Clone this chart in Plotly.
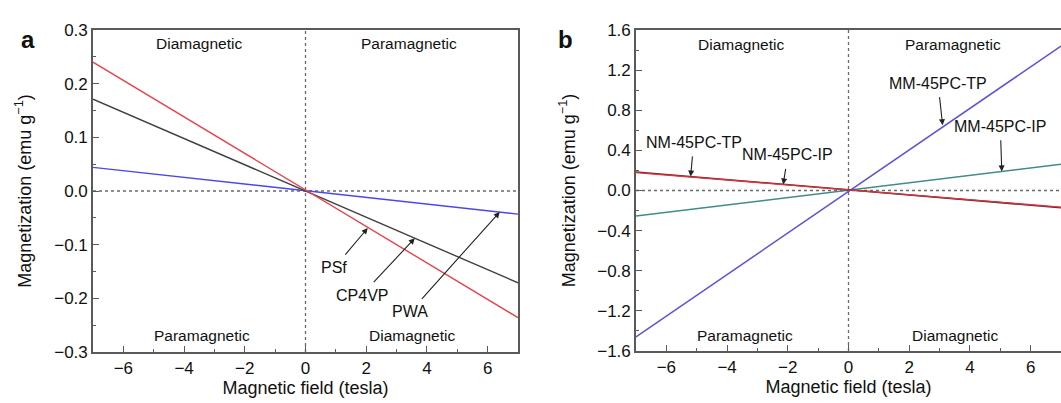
import plotly.graph_objects as go

# ---------------- data ----------------
field = [-7, 7]
# panel a
a_psf = [0.240, -0.236]
a_cp4vp = [0.171, -0.171]
a_pwa = [0.044, -0.043]
# panel b
b_nm_tp = [0.185, -0.172]
b_nm_ip = [0.178, -0.166]
b_mm_tp = [-1.46, 1.44]
b_mm_ip = [-0.255, 0.262]

a_yticks = [-0.3, -0.2, -0.1, 0.0, 0.1, 0.2, 0.3]
a_yticklabels = ["\u22120.3", "\u22120.2", "\u22120.1", "0.0", "0.1", "0.2", "0.3"]
b_yticks = [-1.6, -1.2, -0.8, -0.4, 0.0, 0.4, 0.8, 1.2, 1.6]
b_yticklabels = ["\u22121.6", "\u22121.2", "\u22120.8", "\u22120.4", "0.0", "0.4", "0.8", "1.2", "1.6"]
xticks = [-6, -4, -2, 0, 2, 4, 6]
xticklabels = ["\u22126", "\u22124", "\u22122", "0", "2", "4", "6"]

FONT = "Liberation Sans, Arial, sans-serif"
W, H = 1061, 403

def px_x(p):
    return p / W

def px_y(p):
    return 1 - p / H

fig = go.Figure()

# reference dashed lines
for xa, ya, yr in [("x", "y", [-0.3, 0.3]), ("x2", "y2", [-1.6, 1.6])]:
    fig.add_trace(go.Scatter(x=[0, 0], y=yr, xaxis=xa, yaxis=ya, mode="lines",
                             line=dict(color="#6a6a6a", width=1.3, dash="3px,3px"),
                             showlegend=False, hoverinfo="skip"))
    fig.add_trace(go.Scatter(x=field, y=[0, 0], xaxis=xa, yaxis=ya, mode="lines",
                             line=dict(color="#6a6a6a", width=1.3, dash="3px,3px"),
                             showlegend=False, hoverinfo="skip"))

# panel a lines
fig.add_trace(go.Scatter(x=field, y=a_pwa, name="PWA", mode="lines",
                         line=dict(color="#4a48e8", width=1.4), xaxis="x", yaxis="y"))
fig.add_trace(go.Scatter(x=field, y=a_cp4vp, name="CP4VP", mode="lines",
                         line=dict(color="#404040", width=1.4), xaxis="x", yaxis="y"))
fig.add_trace(go.Scatter(x=field, y=a_psf, name="PSf", mode="lines",
                         line=dict(color="#e8424a", width=1.4), xaxis="x", yaxis="y"))

# panel b lines
fig.add_trace(go.Scatter(x=field, y=b_mm_ip, name="MM-45PC-IP", mode="lines",
                         line=dict(color="#3f8c89", width=1.4), xaxis="x2", yaxis="y2"))
fig.add_trace(go.Scatter(x=field, y=b_mm_tp, name="MM-45PC-TP", mode="lines",
                         line=dict(color="#5b52d8", width=1.5), xaxis="x2", yaxis="y2"))
fig.add_trace(go.Scatter(x=field, y=b_nm_tp, name="NM-45PC-TP", mode="lines",
                         line=dict(color="#5a2a30", width=1.5), xaxis="x2", yaxis="y2"))
fig.add_trace(go.Scatter(x=field, y=b_nm_ip, name="NM-45PC-IP", mode="lines",
                         line=dict(color="#e0303e", width=1.4), xaxis="x2", yaxis="y2"))

axis_common = dict(
    showgrid=False, zeroline=False, showline=True, linecolor="#5a5a5a", linewidth=1.6,
    mirror=True, ticks="inside", ticklen=6, tickwidth=1.3, tickcolor="#5a5a5a",
    tickfont=dict(family=FONT, size=17, color="#111"),
    title_font=dict(family=FONT, size=18, color="#111"),
    automargin=False,
)
minor_x = dict(dtick=1, ticks="inside", ticklen=3, tickcolor="#5a5a5a", tickwidth=1.2)

fig.update_layout(
    width=W, height=H,
    margin=dict(l=0, r=0, t=0, b=0),
    paper_bgcolor="white", plot_bgcolor="white",
    showlegend=False,
    font=dict(family=FONT, color="#111"),
    xaxis=dict(axis_common, domain=[px_x(93), px_x(518)], range=[-7, 7],
               tickvals=xticks, ticktext=xticklabels, minor=minor_x,
               title=dict(text="Magnetic field (tesla)", standoff=4), anchor="y"),
    yaxis=dict(axis_common, domain=[px_y(352), px_y(30)], range=[-0.3, 0.3],
               tickvals=a_yticks, ticktext=a_yticklabels,
               minor=dict(dtick=0.05, ticks="inside", ticklen=3, tickcolor="#5a5a5a", tickwidth=1.2),
               title=dict(text="Magnetization (emu g<sup>\u22121</sup>)", standoff=18), anchor="x"),
    xaxis2=dict(axis_common, domain=[px_x(636), 1.0], range=[-7, 7],
                tickvals=xticks, ticktext=xticklabels, minor=minor_x,
                title=dict(text="Magnetic field (tesla)", standoff=4), anchor="y2"),
    yaxis2=dict(axis_common, domain=[px_y(351), px_y(30)], range=[-1.6, 1.6],
                tickvals=b_yticks, ticktext=b_yticklabels,
                minor=dict(dtick=0.2, ticks="inside", ticklen=3, tickcolor="#5a5a5a", tickwidth=1.2),
                title=dict(text="Magnetization (emu g<sup>\u22121</sup>)", standoff=17), anchor="x2"),
)

ann = []
def region(text, x, y, xr, yr):
    ann.append(dict(text=text, x=x, y=y, xref=xr, yref=yr, showarrow=False,
                    font=dict(family=FONT, size=15.5, color="#111")))

region("Diamagnetic", -3.5, 0.275, "x", "y")
region("Paramagnetic", 3.4, 0.275, "x", "y")
region("Paramagnetic", -3.4, -0.27, "x", "y")
region("Diamagnetic", 3.5, -0.27, "x", "y")
region("Diamagnetic", -3.55, 1.46, "x2", "y2")
region("Paramagnetic", 3.45, 1.46, "x2", "y2")
region("Paramagnetic", -3.4, -1.45, "x2", "y2")
region("Diamagnetic", 3.5, -1.45, "x2", "y2")

def label(text, tx, ty, hx, hy, xr, yr):
    ann.append(dict(text=text, x=hx, y=hy, ax=tx, ay=ty, xref=xr, yref=yr,
                    axref=xr, ayref=yr, showarrow=True, arrowhead=2, arrowsize=1.1,
                    arrowwidth=1.1, arrowcolor="#222", standoff=0, startstandoff=4,
                    font=dict(family=FONT, size=16, color="#111")))

# panel a
label("PSf", 0.95, -0.143, 2.05, -0.069, "x", "y")
label("CP4VP", 1.85, -0.194, 3.6, -0.088, "x", "y")
label("PWA", 3.45, -0.225, 6.4, -0.039, "x", "y")
# panel b
label("NM-45PC-TP", -5.1, 0.48, -5.2, 0.14, "x2", "y2")
label("NM-45PC-IP", -2.0, 0.355, -2.15, 0.06, "x2", "y2")
label("MM-45PC-TP", 2.95, 1.07, 3.1, 0.65, "x2", "y2")
label("MM-45PC-IP", 5.0, 0.64, 5.05, 0.19, "x2", "y2")

# panel letters
ann.append(dict(text="<b>a</b>", x=px_x(18.5), y=px_y(24), xref="paper", yref="paper",
                showarrow=False, font=dict(family=FONT, size=24, color="#111")))
ann.append(dict(text="<b>b</b>", x=px_x(565), y=px_y(24), xref="paper", yref="paper",
                showarrow=False, font=dict(family=FONT, size=24, color="#111")))

fig.update_layout(annotations=ann)
fig.write_html("out.html", config={"displayModeBar": False},
               post_script="document.body.style.margin='0';document.body.style.overflow='hidden';")
